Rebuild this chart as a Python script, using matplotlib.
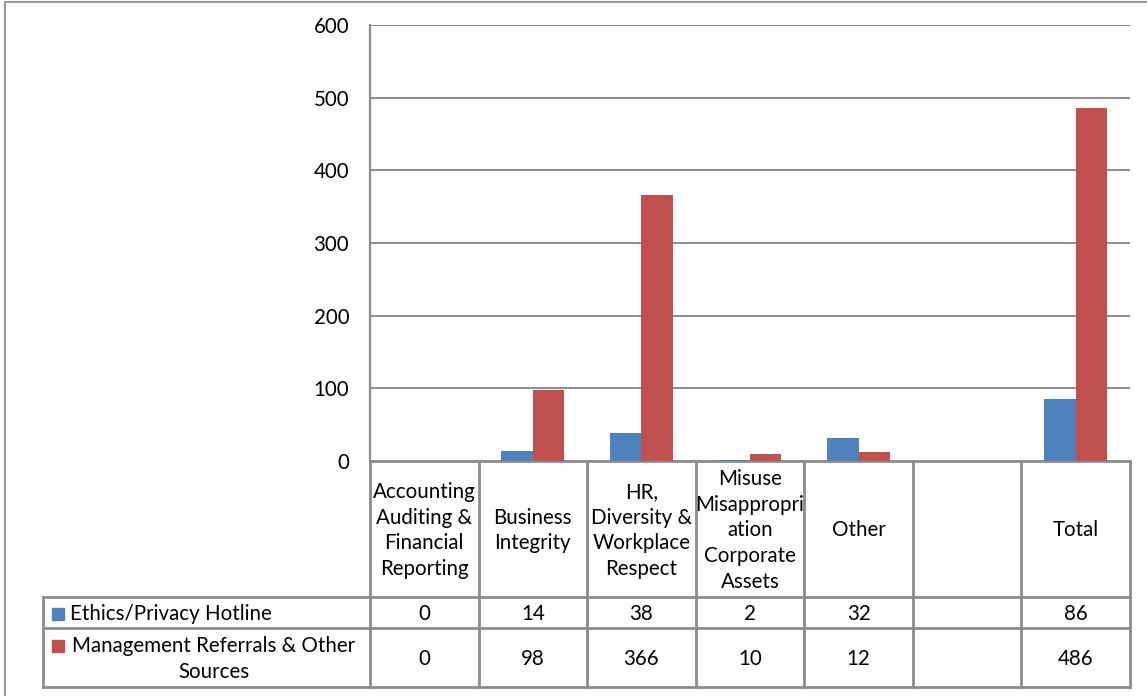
import matplotlib.pyplot as plt
import numpy as np

# Данные
categories = ["Accounting\nAuditing &\nFinancial\nReporting",
              "Business\nIntegrity",
              "HR,\nDiversity &\nWorkplace\nRespect",
              "Misuse\nMisappropri\nation\nCorporate\nAssets",
              "Other",
              "",
              "Total"]
series_names = ["Ethics/Privacy Hotline",
                "Management Referrals & Other\nSources"]
hotline = [0, 14, 38, 2, 32, None, 86]
referrals = [0, 98, 366, 10, 12, None, 486]
y_ticks = [0, 100, 200, 300, 400, 500, 600]

colors = ["#4F81BD", "#C0504D"]
grey = "#8c8c8c"
plt.rcParams["font.family"] = ["Lato", "DejaVu Sans"]
fs = 14.8

W, H = 1147, 696
fig = plt.figure(figsize=(W / 100, H / 100), dpi=100)

# Область графика в пикселях
x0, x1 = 370, 1130
y_top, y_zero = 25, 461
ax = fig.add_axes([x0 / W, 1 - y_zero / H, (x1 - x0) / W, (y_zero - y_top) / H])

n = len(categories)
w = 0.29
xs = np.arange(n) + 0.5
for k, (vals, c) in enumerate(zip([hotline, referrals], colors)):
    v = np.array([np.nan if a is None else a for a in vals], dtype=float)
    ax.bar(xs + (k - 0.5) * w, v, width=w, color=c, zorder=3)

ax.set_xlim(0, n)
ax.set_ylim(0, 600)
ax.set_yticks(y_ticks)
ax.set_yticklabels([str(t) for t in y_ticks], fontsize=fs)
ax.tick_params(axis="y", length=0, pad=15)
ax.set_xticks([])
ax.grid(axis="y", color=grey, linewidth=1.4, zorder=0)
for s in ["top", "right", "bottom"]:
    ax.spines[s].set_visible(False)
ax.spines["left"].set_color(grey)
ax.spines["left"].set_linewidth(1.6)

# Слой в пиксельных координатах для таблицы данных
ov = fig.add_axes([0, 0, 1, 1], zorder=-1)
ov.set_xlim(0, W)
ov.set_ylim(H, 0)
ov.axis("off")

# Внешняя рамка
ov.plot([5, 5, W + 5], [H + 5, 2, 2], color="#9a9a9a", linewidth=1.5)

cw = (x1 - x0) / n
bounds = [x0 + i * cw for i in range(n + 1)]
r_head, r1, r2, r3 = 461, 597, 628, 687
lx = 43
lw = 2.0

ov.plot([x0, x1], [r_head, r_head], color=grey, linewidth=lw)
for yy in [r1, r2, r3]:
    ov.plot([lx, x1], [yy, yy], color=grey, linewidth=lw)
for b in bounds:
    ov.plot([b, b], [r_head, r3], color=grey, linewidth=lw)
ov.plot([lx, lx], [r1, r3], color=grey, linewidth=lw)

# Подписи категорий
step = 25.8
dy = 1.5
for i, lab in enumerate(categories):
    lines = lab.split("\n")
    cx = (bounds[i] + bounds[i + 1]) / 2
    for j, ln in enumerate(lines):
        yy = (r_head + r1) / 2 + dy + (j - (len(lines) - 1) / 2) * step
        ov.text(cx, yy, ln, ha="center", va="center", fontsize=fs, color="black")

# Значения
for vals, (ya, yb) in zip([hotline, referrals], [(r1, r2), (r2, r3)]):
    for i, v in enumerate(vals):
        if v is None:
            continue
        cx = (bounds[i] + bounds[i + 1]) / 2
        ov.text(cx, (ya + yb) / 2 + dy, str(v), ha="center", va="center", fontsize=fs)

# Легенда в таблице
for name, c, (ya, yb) in zip(series_names, colors, [(r1, r2), (r2, r3)]):
    lines = name.split("\n")
    ym = (ya + yb) / 2
    if len(lines) == 1:
        ov.add_patch(plt.Rectangle((52, ym - 5), 12, 12, color=c))
        ov.text(70, ym + dy, lines[0], ha="left", va="center", fontsize=fs)
    else:
        ov.add_patch(plt.Rectangle((52, ym - 18), 12, 12, color=c))
        for j, ln in enumerate(lines):
            ov.text(214, ym + dy + (j - 0.5) * step, ln, ha="center", va="center", fontsize=fs)

fig.savefig("out.png", dpi=100)
